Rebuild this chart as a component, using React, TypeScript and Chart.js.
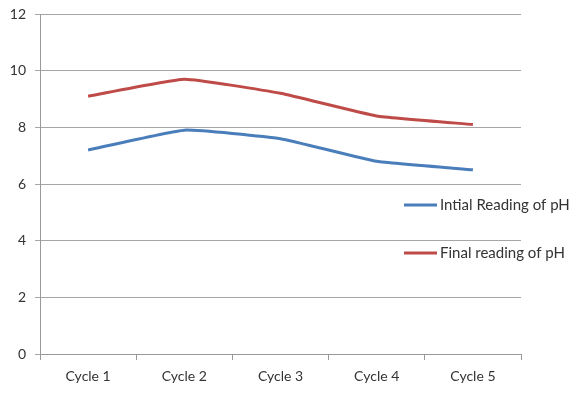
import React, { useEffect, useRef } from "react";
import { Chart, registerables } from "chart.js";

Chart.register(...registerables);

const categories = ["Cycle 1", "Cycle 2", "Cycle 3", "Cycle 4", "Cycle 5"];
const initialPH = [7.2, 7.9, 7.6, 6.8, 6.5];
const finalPH = [9.1, 9.7, 9.2, 8.4, 8.1];
const seriesNames = ["Intial Reading of pH", "Final reading of pH"];
const seriesColors = ["#4a7ebb", "#be4b48"];

const FONT = "Lato, 'Open Sans', sans-serif";

const legendPlugin = {
  id: "floatLegend",
  afterDraw(chart: any) {
    const ctx = chart.ctx;
    ctx.save();
    ctx.font = `15px ${FONT}`;
    ctx.textBaseline = "middle";
    ctx.fillStyle = "#333";
    const ys = [205, 253];
    seriesNames.forEach((name, i) => {
      ctx.strokeStyle = seriesColors[i];
      ctx.lineWidth = 3;
      ctx.beginPath();
      ctx.moveTo(404, ys[i]);
      ctx.lineTo(437, ys[i]);
      ctx.stroke();
      ctx.fillText(name, 440, ys[i]);
    });
    ctx.restore();
  },
};

export default function App() {
  const ref = useRef<HTMLCanvasElement>(null);
  useEffect(() => {
    document.body.style.margin = "0";
    const chart = new Chart(ref.current!, {
      type: "line",
      data: {
        labels: categories,
        datasets: [
          {
            label: seriesNames[0],
            data: initialPH,
            borderColor: seriesColors[0],
            backgroundColor: seriesColors[0],
            borderWidth: 3,
            pointRadius: 0,
            tension: 0.12,
          },
          {
            label: seriesNames[1],
            data: finalPH,
            borderColor: seriesColors[1],
            backgroundColor: seriesColors[1],
            borderWidth: 3,
            pointRadius: 0,
            tension: 0.12,
          },
        ],
      },
      options: {
        animation: false,
        responsive: false,
        layout: { padding: { top: 14, right: 56, left: 0, bottom: 0 }, autoPadding: false },
        plugins: { legend: { display: false }, tooltip: { enabled: false } },
        scales: {
          x: {
            offset: true,
            grid: {
              drawOnChartArea: false,
              drawTicks: true,
              tickLength: 6,
              color: "#999",
              offset: true,
            },
            border: { color: "#999", width: 1 },
            ticks: { color: "#333", font: { family: FONT, size: 14 }, padding: 8, maxRotation: 0 },
            afterFit: (s: any) => {
              s.height = 39;
            },
          },
          y: {
            min: 0,
            max: 12,
            ticks: { stepSize: 2, color: "#333", font: { family: FONT, size: 14 }, padding: 9 },
            grid: { color: "#a6a6a6", tickLength: 5 },
            border: { color: "#999", width: 1 },
            afterFit: (s: any) => {
              s.width = 40;
              s.paddingTop = 0;
              s.paddingBottom = 0;
            },
          },
        },
      },
      plugins: [legendPlugin],
    });
    return () => chart.destroy();
  }, []);
  return <canvas ref={ref} width={577} height={393} style={{ display: "block" }} />;
}
